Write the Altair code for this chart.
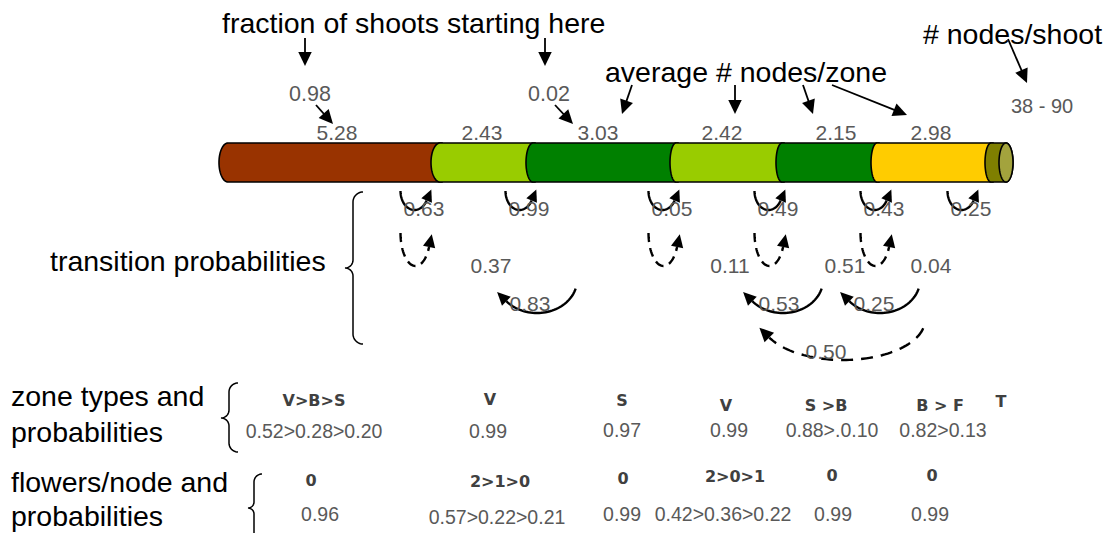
import math
import altair as alt
import pandas as pd

# ---------------- data ----------------
zone_nodes = ["5.28", "2.43", "3.03", "2.42", "2.15", "2.98"]
start_fraction = ["0.98", "0.02"]
nodes_per_shoot = ["38 - 90"]
self_trans = ["0.63", "0.99", "0.05", "0.49", "0.43", "0.25"]
skip_trans = ["0.37", "0.11", "0.51", "0.04"]
back_trans = ["0.83", "0.53", "0.25"]
long_back_trans = ["0.50"]
zone_types = ["V>B>S", "V", "S", "V", "S >B", "B > F", "T"]
zone_type_probs = ["0.52>0.28>0.20", "0.99", "0.97", "0.99", "0.88>.0.10", "0.82>0.13"]
flowers = ["0", "2>1>0", "0", "2>0>1", "0", "0"]
flower_probs = ["0.96", "0.57>0.22>0.21", "0.99", "0.42>0.36>0.22", "0.99", "0.99"]
titles = ["fraction of shoots starting here", "average # nodes/zone", "# nodes/shoot",
          "transition probabilities", "zone types and", "probabilities",
          "flowers/node and", "probabilities"]
zone_colors = ["#993300", "#99CC00", "#008000", "#99CC00", "#008000", "#FFCC00", "#7F7F00"]
end_face_color = "#A3A33D"

# ---------------- layout (diagram positions, image pixels) ----------------
PW, PH = 1099, 525
xsc = alt.Scale(domain=[8, 8 + PW], nice=False, zero=False)
ysc = alt.Scale(domain=[8, 8 + PH], nice=False, zero=False, reverse=True)


def X(f="x"):
    return alt.X(f"{f}:Q", scale=xsc, axis=None)


def Y(f="y"):
    return alt.Y(f"{f}:Q", scale=ysc, axis=None)


bar_top, bar_bot = 143.0, 182.0
seg_left = [219, 431, 526, 670, 776, 871, 985]
seg_rx = [9, 9, 7, 6, 6, 6, 6]
end_cx, end_rx = 1006, 7

title_pos = [(222, 24), (605, 73), (923, 35), (50, 262), (11, 397), (11, 433), (11, 483), (11, 517)]
node_label_x = [337, 482, 598, 722, 836, 931]
node_label_y = 134
start_pos = [(310, 95), (549, 95)]
shoot_pos = [(1042, 107)]
self_x = [424, 529, 672, 778, 884, 971]
self_y = 210
skip_pos = [(491, 267), (730, 267), (845, 267), (931, 267)]
back_x = [530, 779, 874]
back_y = 305
long_pos = [(826, 353)]
type_pos = [(314, 401), (490, 400), (622, 401), (726, 406), (826, 406), (940, 406), (1001, 402)]
type_prob_pos = [(314, 432), (488, 432), (622, 431), (729, 431), (832, 431), (943, 431)]
flower_pos = [(311, 481), (500, 482), (623, 479), (735, 477), (832, 476), (932, 476)]
flower_prob_pos = [(320, 515), (497, 518), (622, 515), (723, 515), (833, 515), (930, 515)]

straight_arrows = [((305, 38), (305, 66)), ((545, 38), (545, 66)),
                   ((316, 105), (333, 124)), ((555, 105), (573, 124)),
                   ((632, 85), (622, 114)), ((735, 85), (735, 114)),
                   ((803, 85), (813, 114)), ((832, 85), (907, 115)),
                   ((1008, 39), (1027, 83))]
dashed_loop_idx = [0, 2, 3, 4]
back_arc_cx = [537, 783, 880]

layers = []

# ---------------- bar (cylinder segments) ----------------
cy = (bar_top + bar_bot) / 2
ry = (bar_bot - bar_top) / 2
for i, col in enumerate(zone_colors):
    rx = seg_rx[i]
    b = seg_left[i] + rx
    rows = []
    for k in range(31):
        a = math.radians(180 - 90 * k / 30)
        h = ry * math.sin(a)
        rows.append((b + rx * math.cos(a), cy - h, cy + h))
    if i + 1 < len(zone_colors):
        rows.append((seg_left[i + 1] + seg_rx[i + 1] + 2, bar_top, bar_bot))
    else:
        for k in range(1, 31):
            a = math.radians(90 - 90 * k / 30)
            h = ry * math.sin(a)
            rows.append((end_cx + end_rx * math.cos(a), cy - h, cy + h))
    df = pd.DataFrame(rows, columns=["x", "y", "y2"])
    layers.append(alt.Chart(df).mark_area(orient="vertical", fill=col, stroke="black",
                                          strokeWidth=1.6, opacity=1).encode(
        x=X(), y=Y(), y2="y2:Q"))

rows = []
for k in range(61):
    a = math.radians(180 - 180 * k / 60)
    h = ry * math.sin(a)
    rows.append((end_cx + end_rx * math.cos(a), cy - h, cy + h))
layers.append(alt.Chart(pd.DataFrame(rows, columns=["x", "y", "y2"])).mark_area(
    orient="vertical", fill=end_face_color, stroke="black", strokeWidth=1.6, opacity=1).encode(
    x=X(), y=Y(), y2="y2:Q"))

# ---------------- curves & arrows ----------------
solid_rows, dashed_rows, dashed_long_rows, brace_rows, heads = [], [], [], [], []


def arc(cx_, cy_, rx_, ry_, a0, a1, n=40):
    return [(cx_ + rx_ * math.cos(math.radians(a0 + (a1 - a0) * k / n)),
             cy_ + ry_ * math.sin(math.radians(a0 + (a1 - a0) * k / n))) for k in range(n + 1)]


def add(rows_, lid, pts):
    for k, (x, y) in enumerate(pts):
        rows_.append(dict(id=lid, ord=k, x=x, y=y))


def head_from_arc(cx_, cy_, rx_, ry_, a_end, sign, L):
    a = math.radians(a_end)
    ex, ey = cx_ + rx_ * math.cos(a), cy_ + ry_ * math.sin(a)
    dx, dy = -rx_ * math.sin(a) * sign, ry_ * math.cos(a) * sign
    n = math.hypot(dx, dy)
    dx, dy = dx / n, dy / n
    ang = math.degrees(math.atan2(dx, -dy)) % 360
    heads.append(dict(x=ex + L * dx, y=ey + L * dy, ang=ang, sz=(2 * L) ** 2))


# small solid loops
for i, sx in enumerate(self_x):
    x0 = sx - 23.5
    add(solid_rows, f"s{i}", arc(x0 + 14, 191, 14, 19, 180, 30))
    head_from_arc(x0 + 14, 191, 14, 19, 30, -1, 12)

# small dashed loops
for j in dashed_loop_idx:
    x0 = self_x[j] - 23.5
    add(dashed_rows, f"d{j}", arc(x0 + 15, 233, 15, 33, 180, 25))
    head_from_arc(x0 + 15, 233, 15, 33, 25, -1, 13)

# backward solid arcs
for i, bx in enumerate(back_arc_cx):
    add(solid_rows, f"b{i}", arc(bx, 280, 40, 33, 15, 140))
    head_from_arc(bx, 280, 40, 33, 140, 1, 13)

# long dashed arc
add(dashed_long_rows, "L0", arc(843, 320, 82, 40, 12, 154, 60))
head_from_arc(843, 320, 82, 40, 154, 1, 14)

# straight arrows
rule_rows = []
for (sx_, sy_), (tx, ty) in straight_arrows:
    dx, dy = tx - sx_, ty - sy_
    n = math.hypot(dx, dy)
    dx, dy = dx / n, dy / n
    L = 14
    rule_rows.append(dict(x=sx_, y=sy_, x2=tx - (L - 3) * dx, y2=ty - (L - 3) * dy))
    heads.append(dict(x=tx, y=ty, ang=math.degrees(math.atan2(dx, -dy)) % 360, sz=(2 * L) ** 2))


# braces
def brace(lid, xr, yt, yb, r, ym, r2):
    xs = xr - r
    xl = xs - r2
    pts = arc(xr, yt + r, r, r, 270, 180, 12)
    pts += arc(xl, ym - r2, r2, r2, 0, 90, 12)
    pts += arc(xl, ym + r2, r2, r2, 270, 360, 12)
    pts += arc(xr, yb - r, r, r, 180, 90, 12)
    add(brace_rows, lid, pts)


brace("t", 363, 192, 344, 10, 268, 8)
brace("z", 238, 383, 452, 9, 418, 8)
brace("f", 262, 474, 545, 8, 508, 6)

ARROW = "M0,0L-0.48,1L0.48,1Z"


def line_layer(rows_, width, dash=None):
    kw = dict(color="black", strokeWidth=width, strokeCap="butt")
    if dash:
        kw["strokeDash"] = dash
    return alt.Chart(pd.DataFrame(rows_)).mark_line(**kw).encode(
        x=X(), y=Y(), detail="id:N", order="ord:Q")


layers.append(line_layer(solid_rows, 2.4))
layers.append(line_layer(dashed_rows, 2.4, [9, 6]))
layers.append(line_layer(dashed_long_rows, 2.4, [12, 8]))
layers.append(line_layer(brace_rows, 1.5))
layers.append(alt.Chart(pd.DataFrame(rule_rows)).mark_rule(color="black", strokeWidth=1.8).encode(
    x=X(), y=Y(), x2="x2:Q", y2="y2:Q"))
layers.append(alt.Chart(pd.DataFrame(heads)).mark_point(
    shape=ARROW, filled=True, color="black", opacity=1, strokeWidth=0).encode(
    x=X(), y=Y(), angle=alt.Angle("ang:Q", scale=None), size=alt.Size("sz:Q", scale=None)))


# ---------------- texts ----------------
def text_layer(labels, pos, size, color, align="center", weight="normal", font="Liberation Sans"):
    df = pd.DataFrame({"label": labels, "x": [p[0] for p in pos], "y": [p[1] for p in pos]})
    return alt.Chart(df).mark_text(align=align, baseline="middle", fontSize=size, font=font,
                                   fontWeight=weight, color=color).encode(
        x=X(), y=Y(), text="label:N")


GRAY = "#595959"
layers.append(text_layer(titles, title_pos, 28.5, "black", align="left"))
layers.append(text_layer(zone_nodes, [(x, node_label_y) for x in node_label_x], 21, GRAY))
layers.append(text_layer(start_fraction, start_pos, 21.5, GRAY))
layers.append(text_layer(nodes_per_shoot, shoot_pos, 20, GRAY))
layers.append(text_layer(self_trans, [(x, self_y) for x in self_x], 21, GRAY))
layers.append(text_layer(skip_trans, skip_pos, 21, GRAY))
layers.append(text_layer(back_trans, [(x, back_y) for x in back_x], 21, GRAY))
layers.append(text_layer(long_back_trans, long_pos, 21, GRAY))
layers.append(text_layer(zone_types, type_pos, 16, "#404040", weight="bold", font="DejaVu Sans"))
layers.append(text_layer(zone_type_probs, type_prob_pos, 19.5, GRAY))
layers.append(text_layer(flowers, flower_pos, 16, "#404040", weight="bold", font="DejaVu Sans"))
layers.append(text_layer(flower_probs, flower_prob_pos, 19.5, GRAY))

chart = alt.layer(*layers).properties(
    width=PW, height=PH, padding=0, autosize=alt.AutoSizeParams(type="none"),
    background="white"
).configure_view(stroke=None)

chart.save("out.html", embed_options={"renderer": "svg", "actions": False})
